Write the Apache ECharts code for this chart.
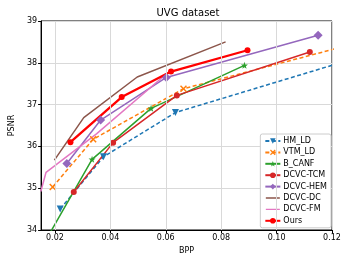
<!DOCTYPE html>
<html><head><meta charset="utf-8">
<script src="https://cdn.jsdelivr.net/npm/echarts@6/dist/echarts.min.js"></script>
<style>html,body{margin:0;padding:0;background:#fff}#c{width:349px;height:262px}</style>
</head><body><div id="c"></div>
<script>
const xTicks = [0.02, 0.04, 0.06, 0.08, 0.10, 0.12];
const yTicks = [34, 35, 36, 37, 38, 39];
const names = ['HM_LD','VTM_LD','B_CANF','DCVC-TCM','DCVC-HEM','DCVC-DC','DCVC-FM','Ours'];
const hmLD    = [[0.0219,34.50],[0.0375,35.75],[0.0635,36.81],[0.128,38.10]];
const vtmLD   = [[0.0192,35.03],[0.0338,36.17],[0.0664,37.38],[0.126,38.42]];
const bCANF   = [[0.0171,33.80],[0.0334,35.69],[0.0547,36.91],[0.0884,37.94]];
const dcvcTCM = [[0.0268,34.91],[0.0410,36.09],[0.0640,37.22],[0.1120,38.26]];
const dcvcHEM = [[0.0243,35.59],[0.0365,36.63],[0.0602,37.65],[0.1150,38.66]];
const dcvcDC  = [[0.0198,35.67],[0.0304,36.69],[0.0497,37.66],[0.0816,38.50]];
const dcvcFM  = [[0.0149,34.92],[0.0168,35.38],[0.0350,36.30],[0.0605,37.75]];
const ours    = [[0.0256,36.10],[0.0441,37.18],[0.0619,37.79],[0.0895,38.30]];

const FONT = 'DejaVu Sans';
const xSym = 'path://M0,1.5L1.5,0L5,3.5L8.5,0L10,1.5L6.5,5L10,8.5L8.5,10L5,6.5L1.5,10L0,8.5L3.5,5Z';
const starSym = 'path://M5,0L6.18,3.38L9.76,3.45L6.9,5.62L7.94,9.05L5,7L2.06,9.05L3.1,5.62L0.24,3.45L3.82,3.38Z';
const lineIcon = 'path://M0,0L16,0L16,0.01ZM0,3.2L16,3.2L16,4.8L0,4.8ZM0,7.99L16,7.99L16,8Z';

function mk(name, data, color, opts) {
  return Object.assign({
    name: name, type: 'line', data: data, clip: true,
    symbol: 'circle', symbolSize: 6, showSymbol: true,
    itemStyle: {color: color},
    lineStyle: {color: color, width: 1.5},
    emphasis: {disabled: true}, animation: false, z: 3
  }, opts || {});
}

const series = [
  {
    name:'grid', type:'line', data:[[0.015,34]], symbol:'none', silent:true, z:1, animation:false,
    lineStyle:{opacity:0},
    markLine:{silent:true, symbol:['none','none'], label:{show:false}, animation:false,
      lineStyle:{color:'#d9d9d9', width:1, type:'solid'},
      data: xTicks.map(v => ({xAxis: v}))}
  },
  mk(names[0], hmLD, '#1f77b4', {symbol:'triangle', symbolRotate:180, symbolSize:7, lineStyle:{color:'#1f77b4',width:1.5,type:[4,2.5]}}),
  mk(names[1], vtmLD, '#ff7f0e', {symbol:xSym, symbolSize:7, lineStyle:{color:'#ff7f0e',width:1.5,type:[4,2.5]}}),
  mk(names[2], bCANF, '#2ca02c', {symbol:starSym, symbolSize:7}),
  mk(names[3], dcvcTCM, '#d62728', {symbol:'circle', symbolSize:6}),
  mk(names[4], dcvcHEM, '#9467bd', {symbol:'diamond', symbolSize:9}),
  mk(names[5], dcvcDC, '#8c564b', {symbol:'none'}),
  mk(names[6], dcvcFM, '#e377c2', {symbol:'none'}),
  mk(names[7], ours, '#ff0000', {symbol:'circle', symbolSize:6, lineStyle:{color:'#ff0000',width:2.3}})
];

const legendData = names.map(n => (n === 'DCVC-DC' || n === 'DCVC-FM') ? {name:n, icon:lineIcon} : {name:n});

const chart = echarts.init(document.getElementById('c'), null, {renderer:'canvas'});
chart.setOption({
  animation:false,
  backgroundColor:'#fff',
  title:{text:'UVG dataset', left:183, top:3, textAlign:'center',
    textStyle:{fontFamily:FONT, fontSize:10, fontWeight:'normal', color:'#000'}},
  grid:{left:34, right:17, top:21, bottom:32, show:true, borderColor:'#000', borderWidth:1, backgroundColor:'transparent'},
  legend:{
    data:legendData, orient:'vertical', right:18, top:134,
    itemWidth:15, itemHeight:7, itemGap:3.4,
    backgroundColor:'#fff', borderColor:'#ccc', borderWidth:1, borderRadius:2,
    padding:[3,4,3,4],
    textStyle:{fontFamily:FONT, fontSize:8, lineHeight:8, color:'#000', padding:[0,0,0,-2]}
  },
  xAxis:{type:'value', min:0.015, max:0.12,
    name:'BPP', nameLocation:'middle', nameGap:17,
    nameTextStyle:{fontFamily:FONT, fontSize:8, color:'#000'},
    axisLine:{show:true, onZero:false, lineStyle:{color:'#000', width:1}},
    axisTick:{show:true, length:3, lineStyle:{color:'#000'}, customValues:xTicks},
    axisLabel:{show:true, fontFamily:FONT, fontSize:8, color:'#000', margin:4, customValues:xTicks,
      formatter:v => v.toFixed(2)},
    splitLine:{show:false}},
  yAxis:{type:'value', min:34, max:39, interval:1,
    name:'PSNR', nameLocation:'middle', nameGap:23, nameRotate:90,
    nameTextStyle:{fontFamily:FONT, fontSize:8, color:'#000'},
    axisLine:{show:true, onZero:false, lineStyle:{color:'#000', width:1}},
    axisTick:{show:true, length:3, lineStyle:{color:'#000'}},
    axisLabel:{fontFamily:FONT, fontSize:8, color:'#000', margin:4,
      formatter:v => yTicks.includes(v) ? String(v) : ''},
    splitLine:{show:true, lineStyle:{color:'#d9d9d9', width:1}}},
  series:series
});
</script></body></html>
